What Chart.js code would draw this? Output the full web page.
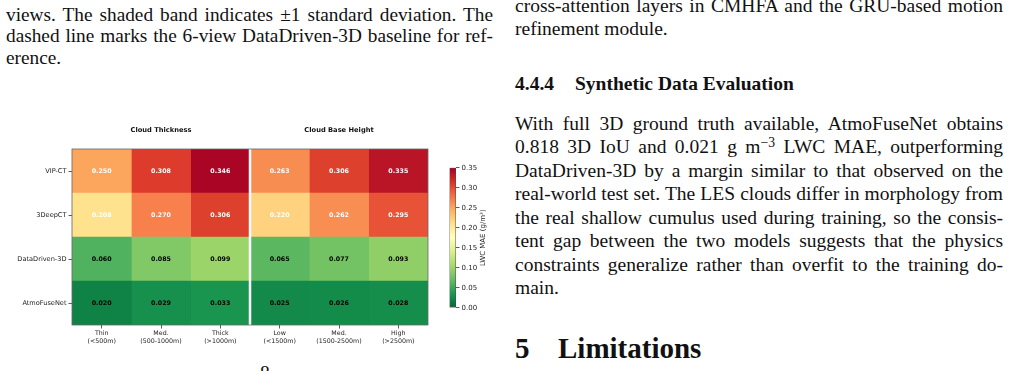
<!DOCTYPE html>
<html lang="en">
<head>
<meta charset="UTF-8">
<title>LWC MAE heatmap</title>
<script src="https://cdn.jsdelivr.net/npm/chart.js"></script>
<style>
  body { margin: 0; width: 1010px; height: 371px; overflow: hidden; background: #fff; position: relative;
         font-family: 'Liberation Serif', 'Times New Roman', serif; color: #111; }
  .ln { position: absolute; font-size: 19.5px; line-height: 1; white-space: nowrap; }
  .l { left: 6px; width: 487px; font-size: 19.3px; }
  .r { left: 515px; width: 488px; }
  .b { font-weight: bold; }
  sup { font-size: 0.7em; line-height: 0; vertical-align: 0.45em; }
  canvas { position: absolute; }
</style>
</head>
<body>
  <!-- caption text, left column -->
  <div class="ln l j" style="top:4.5px"><span>views. The shaded band indicates ±1 standard deviation. The</span></div>
  <div class="ln l j" style="top:26px"><span>dashed line marks the 6-view DataDriven-3D baseline for ref-</span></div>
  <div class="ln l" style="top:47.5px"><span>erence.</span></div>

  <!-- right column -->
  <div class="ln r j" style="top:-3.6px"><span>cross-attention layers in CMHFA and the GRU-based motion</span></div>
  <div class="ln r" style="top:18.7px"><span>refinement module.</span></div>
  <div class="ln r b" style="top:73.7px"><span>4.4.4</span><span style="position:absolute;left:60px">Synthetic Data Evaluation</span></div>
  <div class="ln r j" style="top:113.7px"><span>With full 3D ground truth available, AtmoFuseNet obtains</span></div>
  <div class="ln r j" style="top:137.2px"><span>0.818 3D IoU and 0.021 g m<sup>−3</sup> LWC MAE, outperforming</span></div>
  <div class="ln r j" style="top:160.7px"><span>DataDriven-3D by a margin similar to that observed on the</span></div>
  <div class="ln r j" style="top:184.2px"><span>real-world test set. The LES clouds differ in morphology from</span></div>
  <div class="ln r j" style="top:207.7px"><span>the real shallow cumulus used during training, so the consis-</span></div>
  <div class="ln r j" style="top:231.2px"><span>tent gap between the two models suggests that the physics</span></div>
  <div class="ln r j" style="top:254.7px"><span>constraints generalize rather than overfit to the training do-</span></div>
  <div class="ln r" style="top:278.2px"><span>main.</span></div>
  <div class="ln r b" style="top:333.7px;font-size:29px"><span>5</span><span style="position:absolute;left:43px">Limitations</span></div>
  <div class="ln" style="top:363px;left:260px">8</div>

  <canvas id="heat" width="440" height="262" style="left:0;top:100px"></canvas>
  <canvas id="cbar" width="60" height="160" style="left:440px;top:158px"></canvas>

  <script>
    // data
    const rowLabels = ['VIP-CT', '3DeepCT', 'DataDriven-3D', 'AtmoFuseNet'];
    const colLabels = [['Thin', '(<500m)'], ['Med.', '(500-1000m)'], ['Thick', '(>1000m)'],
                       ['Low', '(<1500m)'], ['Med.', '(1500-2500m)'], ['High', '(>2500m)']];
    const groupTitles = ['Cloud Thickness', 'Cloud Base Height'];
    const vipCT = [0.250, 0.308, 0.346, 0.263, 0.306, 0.335];
    const deepCT3 = [0.208, 0.270, 0.306, 0.220, 0.262, 0.295];
    const dataDriven3D = [0.060, 0.085, 0.099, 0.065, 0.077, 0.093];
    const atmoFuseNet = [0.020, 0.029, 0.033, 0.025, 0.026, 0.028];
    const vmin = 0, vmax = 0.35;
    const cbTitle = 'LWC MAE (g/m³)';

    const matrix = [vipCT, deepCT3, dataDriven3D, atmoFuseNet];

    // justify text lines by stretching word spacing
    document.querySelectorAll('.j').forEach(el => {
      const span = el.querySelector('span');
      const w = span.getBoundingClientRect().width;
      const n = (span.textContent.match(/ /g) || []).length;
      el.style.wordSpacing = ((el.clientWidth - w) / n) + 'px';
    });

    // RdYlGn_r colormap
    const rdylgn = ['#a50026', '#d73027', '#f46d43', '#fdae61', '#fee08b', '#ffffbf',
                    '#d9ef8b', '#a6d96a', '#66bd63', '#1a9850', '#006837'];
    const hex = h => [1, 3, 5].map(k => parseInt(h.substr(k, 2), 16));
    function cmap(t) {
      t = Math.min(1, Math.max(0, t));
      const s = (1 - t) * 10;
      const i = Math.min(9, Math.floor(s));
      const f = s - i;
      const a = hex(rdylgn[i]), b = hex(rdylgn[i + 1]);
      const c = a.map((v, k) => Math.round(v + (b[k] - v) * f));
      return `rgb(${c[0]},${c[1]},${c[2]})`;
    }

    const font = (size, weight) => ({ family: 'DejaVu Sans', size: size, weight: weight || 'normal' });

    const heatDecor = {
      id: 'heatDecor',
      afterDatasetsDraw(chart) {
        const { ctx, chartArea: a, scales: { x } } = chart;
        ctx.save();
        ctx.textAlign = 'center';
        ctx.textBaseline = 'middle';
        ctx.font = 'bold 6.3px "DejaVu Sans"';
        chart.data.datasets.forEach((ds, j) => {
          chart.getDatasetMeta(j).data.forEach((bar, i) => {
            const v = matrix[i][j];
            ctx.fillStyle = v > 0.175 ? '#fff' : '#000';
            ctx.fillText(v.toFixed(3), (bar.x + bar.base) / 2, bar.y + 0.5);
          });
        });
        // separator between the two groups
        const xs = x.getPixelForValue(3);
        ctx.strokeStyle = '#fff';
        ctx.lineWidth = 2.5;
        ctx.beginPath();
        ctx.moveTo(xs, a.top);
        ctx.lineTo(xs, a.bottom);
        ctx.stroke();
        // frame
        ctx.strokeStyle = '#666';
        ctx.lineWidth = 0.8;
        ctx.strokeRect(a.left, a.top, a.right - a.left, a.bottom - a.top);
        // group titles
        ctx.fillStyle = '#111';
        ctx.font = 'bold 6.7px "DejaVu Sans"';
        groupTitles.forEach((t, g) => ctx.fillText(t, x.getPixelForValue(g * 3 + 1.5), a.top - 19));
        ctx.restore();
      }
    };

    new Chart(document.getElementById('heat'), {
      type: 'bar',
      data: {
        labels: rowLabels,
        datasets: colLabels.map((c, j) => ({
          data: matrix.map(() => [j, j + 1]),
          backgroundColor: matrix.map(r => cmap((r[j] - vmin) / (vmax - vmin))),
          grouped: false,
          barPercentage: 1,
          categoryPercentage: 1,
          borderWidth: 0
        }))
      },
      options: {
        indexAxis: 'y',
        responsive: false,
        animation: false,
        devicePixelRatio: 1,
        layout: { padding: { top: 49, right: 12, left: 0, bottom: 0 } },
        plugins: { legend: { display: false }, tooltip: { enabled: false } },
        scales: {
          x: {
            type: 'linear', min: 0, max: 6,
            afterBuildTicks: s => { s.ticks = colLabels.map((_, i) => ({ value: i + 0.5 })); },
            afterFit: s => { s.height = 37; },
            ticks: { callback: (v, i) => colLabels[i], font: font(6.3), color: '#222', padding: 1.5,
                     maxRotation: 0, autoSkip: false },
            grid: { drawOnChartArea: false, tickLength: 3.5, color: '#333', lineWidth: 0.8 },
            border: { display: false }
          },
          y: {
            afterFit: s => { s.width = 72; },
            ticks: { font: font(6.6), color: '#222', padding: 2 },
            grid: { offset: false, drawOnChartArea: false, tickLength: 3.5, color: '#333', lineWidth: 0.8 },
            border: { display: false }
          }
        }
      },
      plugins: [heatDecor]
    });

    // colorbar
    const cbLabel = {
      id: 'cbLabel',
      afterDraw(chart) {
        const { ctx, chartArea: a } = chart;
        ctx.save();
        ctx.translate(43.5, (a.top + a.bottom) / 2);
        ctx.rotate(-Math.PI / 2);
        ctx.fillStyle = '#222';
        ctx.font = '7px "DejaVu Sans"';
        ctx.textAlign = 'center';
        ctx.textBaseline = 'middle';
        ctx.fillText(cbTitle, 0, 0);
        ctx.restore();
      }
    };

    new Chart(document.getElementById('cbar'), {
      type: 'bar',
      data: {
        labels: [''],
        datasets: [{
          data: [[vmin, vmax]],
          backgroundColor: c => {
            const area = c.chart.chartArea;
            if (!area) return '#ccc';
            const g = c.chart.ctx.createLinearGradient(0, area.bottom, 0, area.top);
            for (let k = 0; k <= 20; k++) g.addColorStop(k / 20, cmap(k / 20));
            return g;
          },
          borderColor: '#444',
          borderWidth: 0.8,
          borderSkipped: false,
          barPercentage: 1,
          categoryPercentage: 1
        }]
      },
      options: {
        responsive: false,
        animation: false,
        devicePixelRatio: 1,
        layout: { padding: { left: 9.5, top: 9.7, bottom: 10.3, right: 0 } },
        plugins: { legend: { display: false }, tooltip: { enabled: false } },
        scales: {
          x: { display: false },
          y: {
            position: 'right', min: vmin, max: vmax,
            afterFit: s => { s.width = 44; },
            ticks: { stepSize: 0.05, callback: v => v.toFixed(2), font: font(7), color: '#222', padding: 2 },
            grid: { drawOnChartArea: false, tickLength: 3.5, color: '#333', lineWidth: 0.8 },
            border: { display: false }
          }
        }
      },
      plugins: [cbLabel]
    });
  </script>
</body>
</html>
